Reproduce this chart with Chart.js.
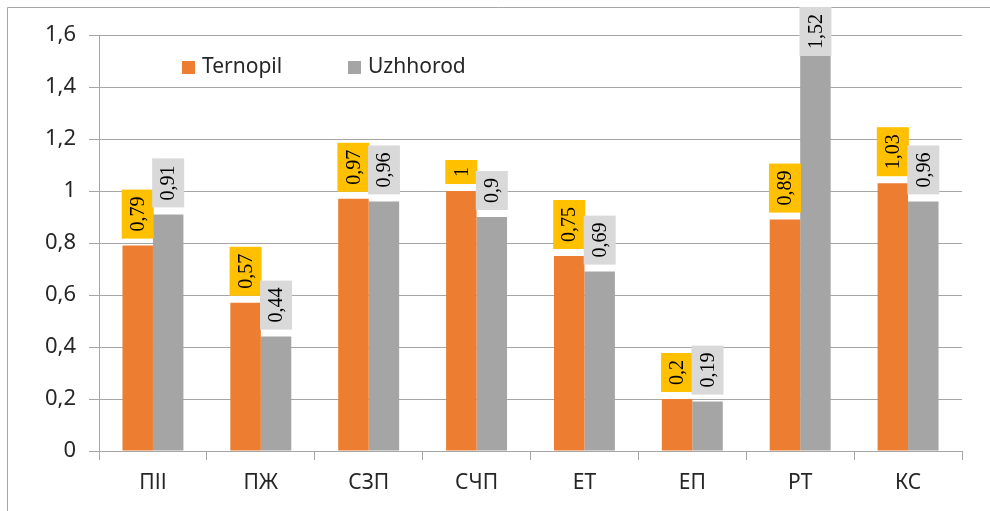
<!DOCTYPE html>
<html>
<head>
<meta charset="utf-8">
<script src="https://cdn.jsdelivr.net/npm/chart.js@4"></script>
<style>
  html, body { margin: 0; padding: 0; background: #fff; }
  #wrap { width: 990px; height: 511px; position: relative; }
</style>
</head>
<body>
<div id="wrap"><canvas id="chart"></canvas></div>
<script>
const categories = ['ПІІ', 'ПЖ', 'СЗП', 'СЧП', 'ЕТ', 'ЕП', 'РТ', 'КС'];
const ternopil = [0.79, 0.57, 0.97, 1, 0.75, 0.2, 0.89, 1.03];
const uzhhorod = [0.91, 0.44, 0.96, 0.9, 0.69, 0.19, 1.52, 0.96];
const yTickLabels = ['0', '0,2', '0,4', '0,6', '0,8', '1', '1,2', '1,4', '1,6'];

const textColor = '#262626';
const gridColor = '#a6a6a6';
const labelBoxColors = ['#ffc000', '#d9d9d9'];

// rotated value labels with coloured boxes
const valueLabels = {
  id: 'valueLabels',
  afterDatasetsDraw(chart) {
    const ctx = chart.ctx;
    ctx.save();
    ctx.font = '20px "Liberation Serif", serif';
    chart.data.datasets.forEach((ds, di) => {
      chart.getDatasetMeta(di).data.forEach((bar, i) => {
        const txt = String(ds.data[i]).replace('.', ',');
        const tw = ctx.measureText(txt).width;
        const h = tw + 14;
        const w = 32;
        let bottom = bar.y - 7;
        if (bottom - h < 7) bottom = 7 + h;
        const cx = bar.x;
        ctx.fillStyle = labelBoxColors[di];
        ctx.fillRect(cx - w / 2, bottom - h, w, h);
        ctx.save();
        ctx.translate(cx, bottom - h / 2);
        ctx.rotate(-Math.PI / 2);
        ctx.fillStyle = '#000';
        ctx.textAlign = 'center';
        ctx.textBaseline = 'middle';
        ctx.fillText(txt, 0, 1);
        ctx.restore();
      });
    });
    ctx.restore();
  }
};

// legend inside the plot + outer frame
const legendInside = {
  id: 'legendInside',
  beforeDraw(chart) {
    const ctx = chart.ctx;
    ctx.save();
    ctx.strokeStyle = '#a6a6a6';
    ctx.lineWidth = 1;
    ctx.beginPath();
    ctx.moveTo(7.5, 511);
    ctx.lineTo(7.5, 7.5);
    ctx.lineTo(990, 7.5);
    ctx.stroke();
    ctx.restore();
  },
  afterDraw(chart) {
    const ctx = chart.ctx;
    const xs = [182, 348];
    ctx.save();
    ctx.font = '21px "Noto Sans", sans-serif';
    ctx.textBaseline = 'middle';
    chart.data.datasets.forEach((ds, di) => {
      ctx.fillStyle = ds.backgroundColor;
      ctx.fillRect(xs[di], 61, 13, 13);
      ctx.fillStyle = textColor;
      ctx.fillText(ds.label, xs[di] + 20, 67);
    });
    ctx.restore();
  }
};

new Chart(document.getElementById('chart'), {
  type: 'bar',
  data: {
    labels: categories,
    datasets: [
      { label: 'Ternopil', data: ternopil, backgroundColor: '#ed7d31' },
      { label: 'Uzhhorod', data: uzhhorod, backgroundColor: '#a5a5a5' }
    ]
  },
  options: {
    responsive: true,
    maintainAspectRatio: false,
    animation: false,
    layout: { padding: { left: 0, right: 28, top: 35, bottom: 0 } },
    datasets: { bar: { categoryPercentage: 0.565, barPercentage: 1 } },
    plugins: { legend: { display: false }, tooltip: { enabled: false } },
    scales: {
      x: {
        afterFit: s => { s.height = 60; },
        grid: { display: true, drawOnChartArea: false, offset: true, tickLength: 9, color: gridColor },
        border: { color: gridColor },
        ticks: { color: textColor, font: { family: '"Noto Sans", sans-serif', size: 21 }, padding: 10 }
      },
      y: {
        min: 0, max: 1.6,
        afterFit: s => { s.width = 99; },
        grid: { color: gridColor, tickLength: 10 },
        border: { color: gridColor },
        ticks: {
          stepSize: 0.2,
          color: textColor,
          font: { family: '"Noto Sans", sans-serif', size: 22 },
          padding: 13,
          callback: (v, i) => yTickLabels[i]
        }
      }
    }
  },
  plugins: [valueLabels, legendInside]
});
</script>
</body>
</html>
